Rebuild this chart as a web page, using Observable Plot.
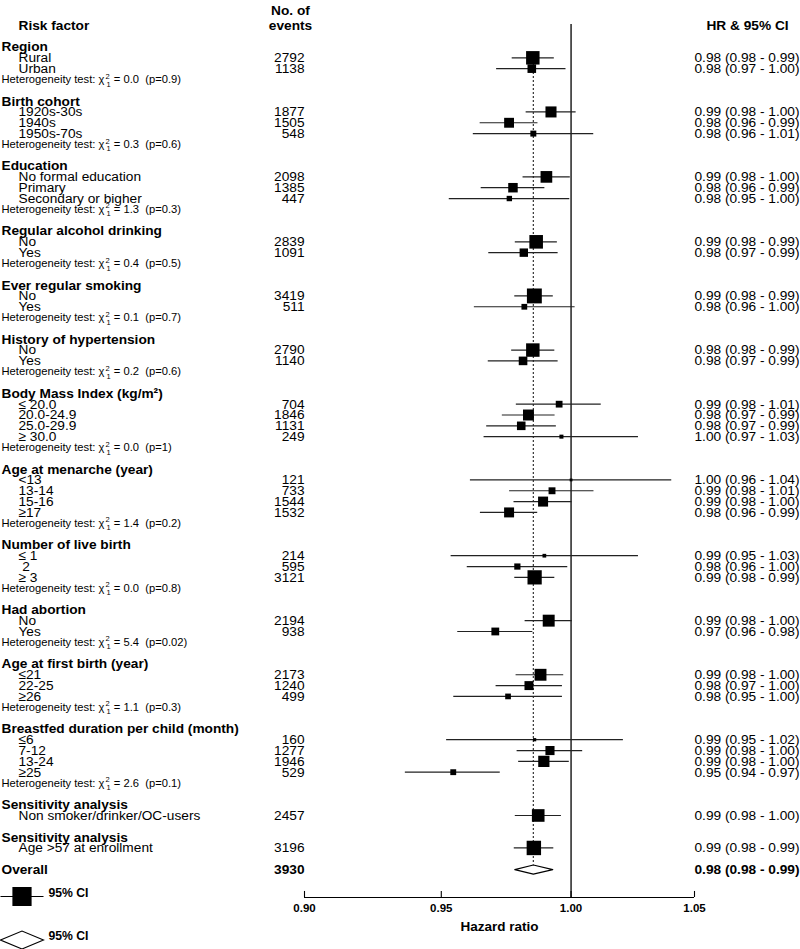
<!DOCTYPE html>
<html>
<head>
<meta charset="utf-8">
<script src="https://cdn.jsdelivr.net/npm/d3@7"></script>
<script src="https://cdn.jsdelivr.net/npm/@observablehq/plot@0.6"></script>
<style>
  html, body { margin: 0; padding: 0; background: white; }
  #chart svg { display: block; }
</style>
</head>
<body>
<div id="chart"></div>
<script>
// ---------------- data ----------------
const groupNames = ["Region", "Birth cohort", "Education", "Regular alcohol drinking", "Ever regular smoking",
  "History of hypertension", "Body Mass Index (kg/m²)", "Age at menarche (year)", "Number of live birth",
  "Had abortion", "Age at first birth (year)", "Breastfed duration per child (month)",
  "Sensitivity analysis", "Sensitivity analysis"];
const groupSizes = [2, 3, 3, 2, 2, 2, 4, 4, 3, 2, 3, 4, 1, 1];
const hetChi = ["0.0", "0.3", "1.3", "0.4", "0.1", "0.2", "0.0", "1.4", "0.0", "5.4", "1.1", "2.6", null, null];
const hetP = ["0.9", "0.6", "0.3", "0.5", "0.7", "0.6", "1", "0.2", "0.8", "0.02", "0.3", "0.1", null, null];

const subgroups = ["Rural", "Urban",
  "1920s-30s", "1940s", "1950s-70s",
  "No formal education", "Primary", "Secondary or bigher",
  "No", "Yes",
  "No", "Yes",
  "No", "Yes",
  "≤ 20.0", "20.0-24.9", "25.0-29.9", "≥ 30.0",
  "<13", "13-14", "15-16", "≥17",
  "≤ 1", "\u00A02", "≥ 3",
  "No", "Yes",
  "≤21", "22-25", "≥26",
  "≤6", "7-12", "13-24", "≥25",
  "Non smoker/drinker/OC-users",
  "Age >57 at enrollment"];
const events = [2792, 1138, 1877, 1505, 548, 2098, 1385, 447, 2839, 1091, 3419, 511, 2790, 1140,
  704, 1846, 1131, 249, 121, 733, 1544, 1532, 214, 595, 3121, 2194, 938, 2173, 1240, 499,
  160, 1277, 1946, 529, 2457, 3196];
const hr = [0.985, 0.9846, 0.9921, 0.9758, 0.9852, 0.9903, 0.9773, 0.9759, 0.9863, 0.9815, 0.9856, 0.9817,
  0.985, 0.9812, 0.9953, 0.9833, 0.9805, 0.9962, 1.000, 0.9925, 0.989, 0.9758, 0.9895, 0.979, 0.9857,
  0.9912, 0.9705, 0.988, 0.9835, 0.9754, 0.9857, 0.9917, 0.9893, 0.9545, 0.9871, 0.9854];
const lower = [0.977, 0.971, 0.9824, 0.9647, 0.9621, 0.9812, 0.9651, 0.953, 0.9782, 0.968, 0.978, 0.9625,
  0.9768, 0.9678, 0.9786, 0.9732, 0.9672, 0.9662, 0.961, 0.976, 0.9777, 0.9648, 0.9537, 0.9598, 0.978,
  0.982, 0.9562, 0.9785, 0.9708, 0.9547, 0.952, 0.9789, 0.9795, 0.9366, 0.9782, 0.9778];
const upper = [0.9934, 0.998, 1.002, 0.987, 1.009, 0.9997, 0.9897, 0.9995, 0.9946, 0.9949, 0.993, 1.0016,
  0.9936, 0.9949, 1.012, 0.9937, 0.9942, 1.027, 1.0406, 1.0091, 1.0004, 0.9869, 1.027, 0.9987, 0.9936,
  1.0005, 0.985, 0.9971, 0.9966, 0.9966, 1.0209, 1.0046, 0.9993, 0.9724, 0.9962, 0.9932];
const hrLabels = [
  "0.98 (0.98 - 0.99)", "0.98 (0.97 - 1.00)",
  "0.99 (0.98 - 1.00)", "0.98 (0.96 - 0.99)", "0.98 (0.96 - 1.01)",
  "0.99 (0.98 - 1.00)", "0.98 (0.96 - 0.99)", "0.98 (0.95 - 1.00)",
  "0.99 (0.98 - 0.99)", "0.98 (0.97 - 0.99)",
  "0.99 (0.98 - 0.99)", "0.98 (0.96 - 1.00)",
  "0.98 (0.98 - 0.99)", "0.98 (0.97 - 0.99)",
  "0.99 (0.98 - 1.01)", "0.98 (0.97 - 0.99)", "0.98 (0.97 - 0.99)", "1.00 (0.97 - 1.03)",
  "1.00 (0.96 - 1.04)", "0.99 (0.98 - 1.01)", "0.99 (0.98 - 1.00)", "0.98 (0.96 - 0.99)",
  "0.99 (0.95 - 1.03)", "0.98 (0.96 - 1.00)", "0.99 (0.98 - 0.99)",
  "0.99 (0.98 - 1.00)", "0.97 (0.96 - 0.98)",
  "0.99 (0.98 - 1.00)", "0.98 (0.97 - 1.00)", "0.98 (0.95 - 1.00)",
  "0.99 (0.95 - 1.02)", "0.99 (0.98 - 1.00)", "0.99 (0.98 - 1.00)", "0.95 (0.94 - 0.97)",
  "0.99 (0.98 - 1.00)",
  "0.99 (0.98 - 0.99)"];

const overallLabel = "Overall";
const overallEvents = 3930;
const overallHR = 0.9852;
const overallLower = 0.978;
const overallUpper = 0.9928;
const overallText = "0.98 (0.98 - 0.99)";

const axisTicks = [0.90, 0.95, 1.00, 1.05];
const axisTitle = "Hazard ratio";
const legendText = "95% CI";

// ---------------- layout rows ----------------
const headers = [], rows = [], hets = [];
let line = 0, k = 0;
groupNames.forEach((g, i) => {
  headers.push({line, text: g});
  line++;
  for (let j = 0; j < groupSizes[i]; j++, k++, line++) {
    rows.push({line, label: subgroups[k], events: events[k], hr: hr[k], lo: lower[k], hi: upper[k], text: hrLabels[k]});
  }
  if (hetChi[i] != null) { hets.push({line, chi: hetChi[i], p: hetP[i]}); line++; }
  line++;
});
const overallLine = line; // 76
const overall = [{line: overallLine, label: overallLabel, events: overallEvents, hr: overallHR, lo: overallLower, hi: overallUpper, text: overallText}];
const dH = 0.42;
const diamond = [
  {x: overallLower, y: overallLine}, {x: overallHR, y: overallLine - dH},
  {x: overallUpper, y: overallLine}, {x: overallHR, y: overallLine + dH},
  {x: overallLower, y: overallLine}];

const axisLine = 78.58, tickTop = 78.02, tickLabelLine = 79.55, titleLine = 81.3, refTop = -2.08;

const FS = 13.7;
const legendBox = {draw(ctx) {
  ctx.moveTo(-21.5, 0); ctx.lineTo(21.5, 0);
  ctx.moveTo(-9, -9); ctx.lineTo(9, -9); ctx.lineTo(9, 9); ctx.lineTo(-9, 9); ctx.closePath();
}};
const legendDiamond = {draw(ctx) {
  ctx.moveTo(-21.5, 0); ctx.lineTo(0, -9); ctx.lineTo(21.5, 0); ctx.lineTo(0, 9); ctx.closePath();
}};

const chart = Plot.plot({
  width: 800, height: 949, margin: 0,
  style: {fontFamily: "'Liberation Sans', Arial, sans-serif", color: "black", background: "white"},
  x: {type: "log", domain: [0.90, 1.05], range: [304, 694], axis: null},
  y: {domain: [0, 76], range: [46.5, 869.1], axis: null},
  r: {type: "sqrt", domain: [0, 3419], range: [0, 8.41]},
  marks: [
    // column headers
    Plot.text(["Risk factor"], {frameAnchor: "top-left", dx: 18, dy: 20, textAnchor: "start", fontWeight: "bold", fontSize: FS}),
    Plot.text(["No. of"], {frameAnchor: "top-left", dx: 290, dy: 5, textAnchor: "middle", fontWeight: "bold", fontSize: FS}),
    Plot.text(["events"], {frameAnchor: "top-left", dx: 290, dy: 20, textAnchor: "middle", fontWeight: "bold", fontSize: FS}),
    Plot.text(["HR & 95% CI"], {frameAnchor: "top-left", dx: 747, dy: 20, textAnchor: "middle", fontWeight: "bold", fontSize: FS}),
    // group headers
    Plot.text(headers, {y: "line", text: "text", frameAnchor: "left", dx: 1, textAnchor: "start", fontWeight: "bold", fontSize: FS}),
    // subgroup labels
    Plot.text(rows, {y: "line", text: "label", frameAnchor: "left", dx: 18, textAnchor: "start", fontSize: FS}),
    // heterogeneity
    Plot.text(hets, {y: "line", text: d => `Heterogeneity test: χ21 = ${d.chi}  (p=${d.p})`, frameAnchor: "left", dx: 1, textAnchor: "start", fontSize: 11.2}),
    // events
    Plot.text(rows, {y: "line", text: d => String(d.events), frameAnchor: "left", dx: 304, textAnchor: "end", fontSize: FS}),
    // hr labels
    Plot.text(rows, {y: "line", text: "text", frameAnchor: "left", dx: 694, textAnchor: "start", fontSize: FS}),
    // overall row text
    Plot.text(overall, {y: "line", text: "label", frameAnchor: "left", dx: 1, textAnchor: "start", fontWeight: "bold", fontSize: FS}),
    Plot.text(overall, {y: "line", text: d => String(d.events), frameAnchor: "left", dx: 304, textAnchor: "end", fontWeight: "bold", fontSize: FS}),
    Plot.text(overall, {y: "line", text: "text", frameAnchor: "left", dx: 694, textAnchor: "start", fontWeight: "bold", fontSize: FS}),
    // dotted overall line
    Plot.ruleX([overallHR], {x: d => d, y1: () => 0.5, y2: () => overallLine - dH, stroke: "#333", strokeWidth: 1.2, strokeDasharray: "2,2"}),
    // reference line at 1
    Plot.ruleX([1], {x: d => d, y1: () => refTop, y2: () => axisLine, stroke: "black", strokeWidth: 1.3}),
    // CIs
    Plot.ruleY(rows, {y: "line", x1: "lo", x2: "hi", stroke: "#222", strokeWidth: 1.2}),
    // squares
    Plot.dot(rows, {x: "hr", y: "line", r: "events", symbol: "square", fill: "black", stroke: "none"}),
    // overall diamond
    Plot.line(diamond, {x: "x", y: "y", fill: "white", stroke: "black", strokeWidth: 1.1}),
    // axis
    Plot.ruleY([axisLine], {y: d => d, x1: () => axisTicks[0], x2: () => axisTicks[axisTicks.length - 1], stroke: "black", strokeWidth: 1.1}),
    Plot.ruleX(axisTicks, {x: d => d, y1: () => tickTop, y2: () => axisLine, stroke: "black", strokeWidth: 1.1}),
    Plot.text(axisTicks, {x: d => d, y: () => tickLabelLine, text: d => d.toFixed(2), fontWeight: "bold", fontSize: 11.5}),
    Plot.text([axisTitle], {x: () => Math.sqrt(axisTicks[0] * axisTicks[axisTicks.length - 1]), y: () => titleLine, text: d => d, fontWeight: "bold", fontSize: 13.5}),
    // legend
    Plot.dot([0], {frameAnchor: "bottom-left", dx: 21.5, dy: -53, symbol: legendBox, fill: "black", stroke: "black", strokeWidth: 1.2}),
    Plot.text([legendText], {frameAnchor: "bottom-left", dx: 48, dy: -53, textAnchor: "start", fontWeight: "bold", fontSize: 12.2}),
    Plot.dot([0], {frameAnchor: "bottom-left", dx: 21.5, dy: -9.5, symbol: legendDiamond, fill: "white", stroke: "black", strokeWidth: 1.1}),
    Plot.text([legendText], {frameAnchor: "bottom-left", dx: 48, dy: -9.5, textAnchor: "start", fontWeight: "bold", fontSize: 12.2})
  ]
});

// heterogeneity: stacked super/subscript on chi
const NS = "http://www.w3.org/2000/svg";
const hetNodes = Array.from(chart.querySelectorAll("text")).filter(t => t.textContent.startsWith("Heterogeneity test:"));
hetNodes.forEach((t, i) => {
  const d = hets[i];
  while (t.firstChild) t.removeChild(t.firstChild);
  t.setAttribute("style", "white-space:pre");
  const add = (s, attrs = {}) => {
    const ts = document.createElementNS(NS, "tspan");
    ts.textContent = s;
    for (const a in attrs) ts.setAttribute(a, attrs[a]);
    t.appendChild(ts);
  };
  add("Heterogeneity test: \u03C7");
  add("2", {"font-size": 7.5, dx: 1, dy: -4.5});
  add("1", {"font-size": 7.5, dx: -3, dy: 8});
  add(" = " + d.chi + "  (p=" + d.p + ")", {dy: -3.5});
});

document.getElementById("chart").appendChild(chart);
</script>
</body>
</html>
